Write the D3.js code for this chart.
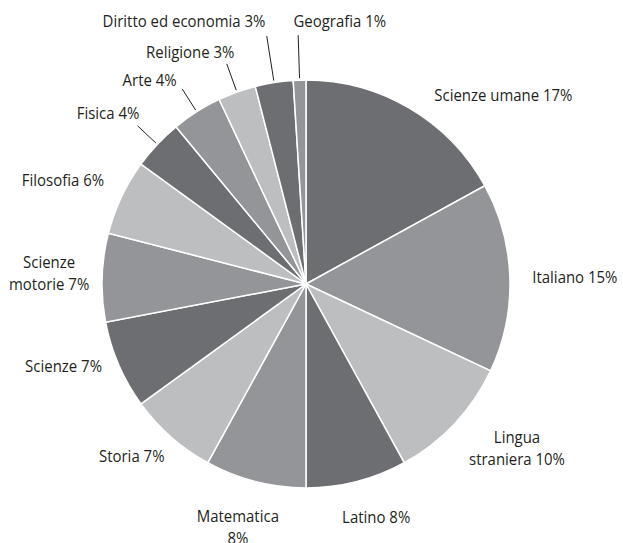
<!DOCTYPE html>
<meta charset="utf-8">
<script src="https://cdn.jsdelivr.net/npm/d3@7"></script>
<style>
  body { margin: 0; background: #fff; }
  text { font-family: "Open Sans", sans-serif; font-size: 17px; fill: #231f20; }
</style>
<div id="chart"></div>
<script>
// data
var subjects = ["Scienze umane", "Italiano", "Lingua straniera", "Latino", "Matematica",
  "Storia", "Scienze", "Scienze motorie", "Filosofia", "Fisica", "Arte",
  "Religione", "Diritto ed economia", "Geografia"];
var percents = [17, 15, 10, 8, 8, 7, 7, 7, 6, 4, 4, 3, 3, 1];
var shades = ["dark", "mid", "light"];

// label layout: line breaks, nudges from the polar label point, leader length
var labelLines = {
  "Lingua straniera": ["Lingua", "straniera"],
  "Matematica": ["Matematica", ""],
  "Scienze motorie": ["Scienze", "motorie"]
};
var nudge = {
  "Scienze umane": [64, 37], "Italiano": [7, 1], "Lingua straniera": [20, -15],
  "Latino": [5, -21], "Matematica": [-3, -11], "Storia": [-1, -24],
  "Scienze": [-2, -22], "Scienze motorie": [5, -3], "Filosofia": [-6, 8],
  "Fisica": [-7, 8], "Arte": [-16, 17], "Religione": [-27, 15],
  "Diritto ed economia": [-81, -4], "Geografia": [42, -1]
};
var leader = { "Fisica": 231, "Arte": 231, "Religione": 234,
  "Diritto ed economia": 251, "Geografia": 249 };

var width = 623, height = 543,
    cx = 306, cy = 284, r = 204,
    squeeze = 0.88;   // condensed look of the original type

var color = d3.scaleOrdinal()
  .domain(shades)
  .range(["#6d6e71", "#939598", "#bcbec0"]);

var svg = d3.select("#chart").append("svg")
  .attr("width", width)
  .attr("height", height);

var g = svg.append("g").attr("transform", "translate(" + cx + "," + cy + ")");

var data = subjects.map(function(s, i) { return {name: s, value: percents[i], i: i}; });

var pie = d3.pie().sort(null).value(function(d) { return d.value; });
var arcs = pie(data);

var arc = d3.arc().innerRadius(0).outerRadius(r);

g.selectAll("path")
  .data(arcs)
  .enter().append("path")
    .attr("d", arc)
    .attr("fill", function(d) { return color(shades[d.data.i % 3]); })
    .attr("stroke", "#fff")
    .attr("stroke-width", 1.5);

function polar(a, rad) { return [rad * Math.sin(a), -rad * Math.cos(a)]; }
function mid(d) { return (d.startAngle + d.endAngle) / 2; }

// leader lines
g.selectAll("line.leader")
  .data(arcs.filter(function(d) { return leader[d.data.name]; }))
  .enter().append("line")
    .attr("class", "leader")
    .attr("x1", function(d) { return polar(mid(d), r + 2)[0]; })
    .attr("y1", function(d) { return polar(mid(d), r + 2)[1]; })
    .attr("x2", function(d) { return polar(mid(d), leader[d.data.name])[0]; })
    .attr("y2", function(d) { return polar(mid(d), leader[d.data.name])[1]; })
    .attr("stroke", "#231f20")
    .attr("stroke-width", 1);

// labels
var labels = g.selectAll("text.lbl")
  .data(arcs)
  .enter().append("text")
    .attr("class", "lbl")
    .attr("text-anchor", "middle")
    .attr("transform", function(d) {
      var p = polar(mid(d), 262), n = nudge[d.data.name];
      return "translate(" + (p[0] + n[0]) + "," + (p[1] + n[1]) + ") scale(" + squeeze + ",1)";
    });

labels.each(function(d) {
  var t = d3.select(this);
  var pct = d.data.value + "%";
  var lines = labelLines[d.data.name];
  if (lines) {
    var l2 = lines[1] ? lines[1] + " " + pct : pct;
    t.append("tspan").attr("x", 0).attr("y", -11).attr("dy", "0.35em").text(lines[0]);
    t.append("tspan").attr("x", 0).attr("y", 11).attr("dy", "0.35em").text(l2);
  } else {
    t.append("tspan").attr("x", 0).attr("y", 0).attr("dy", "0.35em").text(d.data.name + " " + pct);
  }
});
</script>
